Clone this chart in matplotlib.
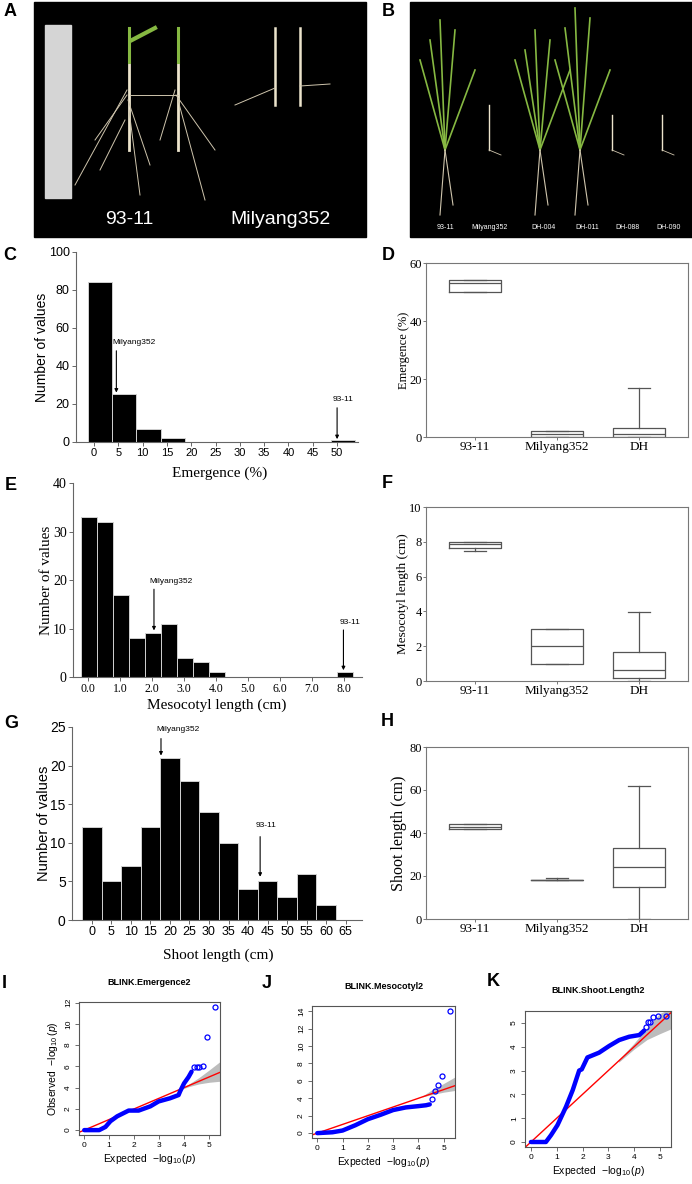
import matplotlib.pyplot as plt
from matplotlib.patches import Rectangle

W, H = 692, 1184
SERIF = ['Liberation Serif', 'DejaVu Serif']
SANS = ['Liberation Sans', 'DejaVu Sans']
plt.rcParams['font.family'] = SANS
plt.rcParams['mathtext.fontset'] = 'custom'
plt.rcParams['mathtext.rm'] = 'Liberation Sans'
plt.rcParams['mathtext.it'] = 'Liberation Sans:italic'

# ---- data ----
# C: emergence histogram (bin start, count)
emerg_bins = [0, 5, 10, 15, 20, 25, 30, 35, 40, 45, 50]
emerg_counts = [84, 25, 7, 2, 0, 0, 0, 0, 0, 0, 1]
# E: mesocotyl length histogram
meso_bins = [0.0, 0.5, 1.0, 1.5, 2.0, 2.5, 3.0, 3.5, 4.0, 4.5, 5.0, 5.5, 6.0, 6.5, 7.0, 7.5, 8.0]
meso_counts = [33, 32, 17, 8, 9, 11, 4, 3, 1, 0, 0, 0, 0, 0, 0, 0, 1]
# G: shoot length histogram
shoot_bins = [0, 5, 10, 15, 20, 25, 30, 35, 40, 45, 50, 55, 60]
shoot_counts = [12, 5, 7, 12, 21, 18, 14, 10, 4, 5, 3, 6, 2]

groups = ['93-11', 'Milyang352', 'DH']
# box stats per group: (low whisker, q1, median, q3, high whisker)
emerg_box = [(50, 50, 53, 54, 54), (0, 0, 1, 2, 2), (0, 0, 1, 3, 17)]
meso_box = [(7.5, 7.65, 7.85, 8.0, 8.0), (1, 1, 2, 3, 3), (0, 0.2, 0.65, 1.65, 3.95)]
shoot_box = [(42, 42, 43, 44, 44), (18, 18, 18, 18, 19), (0, 15, 24, 33, 62)]

# QQ plots: dense chain of points, separate top points, grey band
qq_em_x = [0, 0.6, 0.85, 1.05, 1.32, 1.78, 2.18, 2.65, 2.98, 3.44, 3.78, 3.84, 4.0, 4.18, 4.3]
qq_em_y = [0, 0, 0.3, 0.84, 1.3, 1.84, 1.84, 2.24, 2.7, 3.0, 3.3, 3.64, 4.4, 5.0, 5.5]
qq_em_top_x = [4.38, 4.5, 4.6, 4.75, 4.92, 5.23]
qq_em_top_y = [5.9, 5.95, 5.95, 6.05, 8.75, 11.6]
band_em_x = [3.9, 4.2, 4.6, 5.0, 5.44]
band_em_lo = [3.85, 4.1, 4.35, 4.5, 4.6]
band_em_hi = [3.95, 4.35, 4.95, 5.65, 6.45]

qq_me_x = [0, 0.6, 1.0, 1.5, 2.0, 2.5, 3.0, 3.5, 4.0, 4.3, 4.45]
qq_me_y = [0, 0.1, 0.3, 0.9, 1.6, 2.1, 2.65, 2.95, 3.1, 3.2, 3.3]
qq_me_top_x = [4.55, 4.64, 4.76, 4.94, 5.24]
qq_me_top_y = [3.9, 4.8, 5.5, 6.6, 14.05]
band_me_x = [4.15, 4.5, 5.0, 5.45]
band_me_lo = [4.15, 4.4, 4.7, 4.9]
band_me_hi = [4.25, 4.9, 5.7, 6.45]

qq_sh_x = [0, 0.58, 0.78, 1.03, 1.36, 1.62, 1.87, 1.97, 2.19, 2.64, 3.03, 3.42, 3.81, 4.2, 4.39]
qq_sh_y = [0, 0, 0.29, 0.71, 1.48, 2.18, 3.0, 3.05, 3.55, 3.75, 4.03, 4.28, 4.42, 4.49, 4.68]
qq_sh_top_x = [4.46, 4.53, 4.62, 4.75, 4.94, 5.24]
qq_sh_top_y = [4.82, 5.05, 5.05, 5.23, 5.3, 5.3]
band_sh_x = [3.4, 4.0, 4.5, 5.0, 5.43]
band_sh_lo = [3.35, 3.9, 4.3, 4.55, 4.75]
band_sh_hi = [3.45, 4.15, 4.8, 5.4, 5.6]

fig = plt.figure(figsize=(W / 100, H / 100), dpi=100)


def px_axes(x0, y0, x1, y1):
    return fig.add_axes([x0 / W, 1 - y1 / H, (x1 - x0) / W, (y1 - y0) / H])


def ftext(x, y, s, **kw):
    fig.text(x / W, 1 - y / H, s, **kw)


def serif_ticks(ax):
    for lab in ax.get_xticklabels() + ax.get_yticklabels():
        lab.set_fontfamily(SERIF)


# ---- photo panels (A, B) drawn as plain stand-ins ----
bg = fig.add_axes([0, 0, 1, 1])
bg.set_xlim(0, W)
bg.set_ylim(H, 0)
bg.axis('off')
bg.add_patch(Rectangle((34, 2), 332, 235, color='black'))
bg.add_patch(Rectangle((410, 2), 282, 235, color='black'))
bg.add_patch(Rectangle((45, 25), 26, 173, color='#d5d5d5'))
root = '#cfc5ad'
stem = '#ece4cc'
leaf = '#86b842'
# 93-11 seedlings
for sx in [129, 178]:
    bg.plot([sx, sx], [28, 150], color=stem, lw=2)
    bg.plot([sx, sx], [28, 62], color=leaf, lw=2.2)
bg.plot([132, 155], [40, 28], color=leaf, lw=3)
for x0, y0, x1, y1 in [(127, 90, 75, 185), (127, 95, 95, 140), (128, 100, 150, 165),
                       (129, 110, 140, 195), (176, 95, 215, 150), (178, 100, 205, 200),
                       (175, 90, 160, 140), (130, 95, 178, 95), (125, 120, 100, 170)]:
    bg.plot([x0, x1], [y0, y1], color=root, lw=0.7)
# Milyang352 seedlings
for sx in [275, 300]:
    bg.plot([sx, sx], [28, 105], color=stem, lw=1.8)
bg.plot([275, 235], [88, 105], color=root, lw=0.7)
bg.plot([300, 330], [86, 84], color=root, lw=0.7)
ftext(129, 220, '93-11', color='white', fontsize=14, ha='center', va='center')
ftext(280, 220, 'Milyang352', color='white', fontsize=14, ha='center', va='center')
# B plants
for px, top in [(445, 20), (540, 30), (580, 8)]:
    for dx, ty in [(-25, 60), (-5, top), (10, top + 10), (30, 70), (-15, top + 20)]:
        bg.plot([px, px + dx], [150, ty], color=leaf, lw=1.2)
    bg.plot([px, px - 5], [150, 215], color=root, lw=0.8)
    bg.plot([px, px + 8], [150, 205], color=root, lw=0.8)
for px, top in [(489, 105), (612, 115), (662, 115)]:
    bg.plot([px, px], [top, 150], color=stem, lw=1)
    bg.plot([px, px + 12], [150, 155], color=root, lw=0.6)
for px, lab in zip([445, 490, 543, 587, 628, 669],
                   ['93-11', 'Milyang352', 'DH-004', 'DH-011', 'DH-088', 'DH-090']):
    ftext(px, 227, lab, color='white', fontsize=5, ha='center', va='center')

# ---- panel letters ----
for x, y, s in [(10, 12, 'A'), (388, 12, 'B'), (10, 255, 'C'), (388, 255, 'D'),
                (11, 485, 'E'), (387, 483, 'F'), (11, 723, 'G'), (387, 721, 'H'),
                (4, 983, 'I'), (267, 983, 'J'), (493, 982, 'K')]:
    ftext(x, y, s, fontsize=13, fontweight='bold', ha='center', va='center')


# ---- histograms ----
def histogram(ax, bins, counts, width, offset):
    centers = [b + offset for b in bins]
    ax.bar(centers, counts, width=width, color='black', edgecolor='#d0d0d0', linewidth=0.7)
    for s in ['top', 'right']:
        ax.spines[s].set_visible(False)
    for s in ['left', 'bottom']:
        ax.spines[s].set_color('#666666')
        ax.spines[s].set_linewidth(0.8)
    ax.tick_params(length=3, width=0.7, color='#666666', pad=1.5)


def arrow_note(ax, label, x, y_tail, y_tip, y_text):
    ax.annotate('', xy=(x, y_tip), xytext=(x, y_tail),
                arrowprops=dict(arrowstyle='-|>', color='black', lw=0.8,
                                mutation_scale=5, shrinkA=0, shrinkB=0))
    ax.annotate(label, xy=(x, y_text), xytext=(-3, 0), textcoords='offset points',
                ha='left', va='center', fontsize=6)


axC = px_axes(76, 252, 358, 442)
histogram(axC, emerg_bins, emerg_counts, 5, 1.2)
axC.set_xlim(-3.7, 54.3)
axC.set_ylim(0, 100)
axC.set_xticks(range(0, 51, 5))
axC.set_yticks(range(0, 101, 20))
axC.tick_params(axis='x', labelsize=8)
axC.tick_params(axis='y', labelsize=9)
arrow_note(axC, 'Milyang352', 4.6, 48, 26, 52.5)
arrow_note(axC, '93-11', 50, 18, 1.5, 22.5)
ftext(220, 473, 'Emergence (%)', fontsize=11, family=SERIF, ha='center', va='center')
ftext(42, 347, 'Number of values', fontsize=10, rotation=90, ha='center', va='center')

axE = px_axes(73, 483, 362, 677)
histogram(axE, meso_bins, meso_counts, 0.5, 0.03)
axE.set_xlim(-0.47, 8.56)
axE.set_ylim(0, 40)
axE.set_xticks(range(0, 9))
axE.set_xticklabels([f'{v:.1f}' for v in range(0, 9)])
axE.set_yticks(range(0, 41, 10))
axE.tick_params(axis='x', labelsize=8.5)
axE.tick_params(axis='y', labelsize=10)
serif_ticks(axE)
arrow_note(axE, 'Milyang352', 2.06, 18.1, 9.6, 19.6)
arrow_note(axE, '93-11', 7.98, 9.7, 1.4, 11.2)
ftext(217, 705, 'Mesocotyl length (cm)', fontsize=11, family=SERIF, ha='center', va='center')
ftext(47, 580, 'Number of values', fontsize=11, family=SERIF, rotation=90, ha='center', va='center')

axG = px_axes(72, 727, 362, 920)
histogram(axG, shoot_bins, shoot_counts, 5, 0)
axG.set_xlim(-5.1, 69.2)
axG.set_ylim(0, 25)
axG.set_xticks(range(0, 66, 5))
axG.set_yticks(range(0, 26, 5))
axG.tick_params(axis='x', labelsize=9)
axG.tick_params(axis='y', labelsize=10)
arrow_note(axG, 'Milyang352', 17.7, 23.5, 21.3, 24.7)
arrow_note(axG, '93-11', 43.1, 10.8, 5.6, 12.2)
ftext(218, 955, 'Shoot length (cm)', fontsize=11, family=SERIF, ha='center', va='center')
ftext(44, 823, 'Number of values', fontsize=10.5, rotation=90, ha='center', va='center')


# ---- box plots ----
def boxpanel(ax, stats, ylim, yticks):
    data = [dict(whislo=s[0], q1=s[1], med=s[2], q3=s[3], whishi=s[4], label=g)
            for s, g in zip(stats, groups)]
    line = dict(color='#555555', linewidth=0.9)
    ax.bxp(data, positions=[0, 1, 2], widths=0.64, capwidths=0.27, showfliers=False,
           boxprops=line, medianprops=line, whiskerprops=line, capprops=line)
    ax.set_xlim(-0.6, 2.6)
    ax.set_ylim(*ylim)
    ax.set_yticks(yticks)
    for s in ax.spines.values():
        s.set_color('#777777')
        s.set_linewidth(0.8)
    ax.tick_params(length=2, width=0.7, color='#777777', pad=1)
    ax.tick_params(axis='x', labelsize=9.5)
    ax.tick_params(axis='y', labelsize=9)
    serif_ticks(ax)


axD = px_axes(426, 263, 688, 437)
boxpanel(axD, emerg_box, (0, 60), [0, 20, 40, 60])
ftext(404, 350, 'Emergence (%)', fontsize=9, family=SERIF, rotation=90, ha='center', va='center')

axF = px_axes(426, 507, 688, 681)
boxpanel(axF, meso_box, (0, 10), [0, 2, 4, 6, 8, 10])
ftext(403, 594, 'Mesocotyl length (cm)', fontsize=9.5, family=SERIF, rotation=90,
      ha='center', va='center')

axH = px_axes(426, 747, 688, 919)
boxpanel(axH, shoot_box, (0, 80), [0, 20, 40, 60, 80])
ftext(399, 833, 'Shoot length (cm)', fontsize=11.5, family=SERIF, rotation=90,
      ha='center', va='center')


# ---- QQ plots ----
def qqpanel(ax, dx, dy, tx, ty, bx, blo, bhi, xlim, ylim, yticks, title, ylabel):
    ax.fill_between(bx, blo, bhi, color='#bcbcbc', linewidth=0)
    ax.axline((0, 0), slope=1, color='red', lw=1)
    ax.plot(dx, dy, color='blue', lw=3.2, solid_capstyle='round', solid_joinstyle='round')
    ax.plot(tx, ty, 'o', mfc='none', mec='blue', ms=3.6, mew=0.9)
    ax.set_xlim(*xlim)
    ax.set_ylim(*ylim)
    ax.set_xticks(range(0, 6))
    ax.set_yticks(yticks)
    for s in ax.spines.values():
        s.set_color('#555555')
        s.set_linewidth(0.8)
    ax.tick_params(length=3, width=0.6, color='#555555', labelsize=6, pad=2)
    for lab in ax.get_yticklabels():
        lab.set_rotation(90)
        lab.set_va('center')
    ax.text(0.5, 1.15, title, transform=ax.transAxes, ha='center', va='center',
            fontsize=6.5, fontweight='bold')
    ax.set_xlabel(r'Expected  $-\log_{10}(p)$', fontsize=7.5, labelpad=2)
    if ylabel:
        ax.set_ylabel(r'Observed  $-\log_{10}(p)$', fontsize=7.5, labelpad=4)


axI = px_axes(79, 1002, 220, 1135)
qqpanel(axI, qq_em_x, qq_em_y, qq_em_top_x, qq_em_top_y, band_em_x, band_em_lo, band_em_hi,
        (-0.21, 5.44), (-0.46, 12.06), range(0, 13, 2), 'BLINK.Emergence2', True)

axJ = px_axes(312, 1006, 455, 1138)
qqpanel(axJ, qq_me_x, qq_me_y, qq_me_top_x, qq_me_top_y, band_me_x, band_me_lo, band_me_hi,
        (-0.21, 5.45), (-0.56, 14.6), range(0, 15, 2), 'BLINK.Mesocotyl2', False)

axK = px_axes(525, 1011, 671, 1147)
qqpanel(axK, qq_sh_x, qq_sh_y, qq_sh_top_x, qq_sh_top_y, band_sh_x, band_sh_lo, band_sh_hi,
        (-0.23, 5.43), (-0.21, 5.5), range(0, 6), 'BLINK.Shoot.Length2', False)

fig.savefig('out.png', dpi=100)
